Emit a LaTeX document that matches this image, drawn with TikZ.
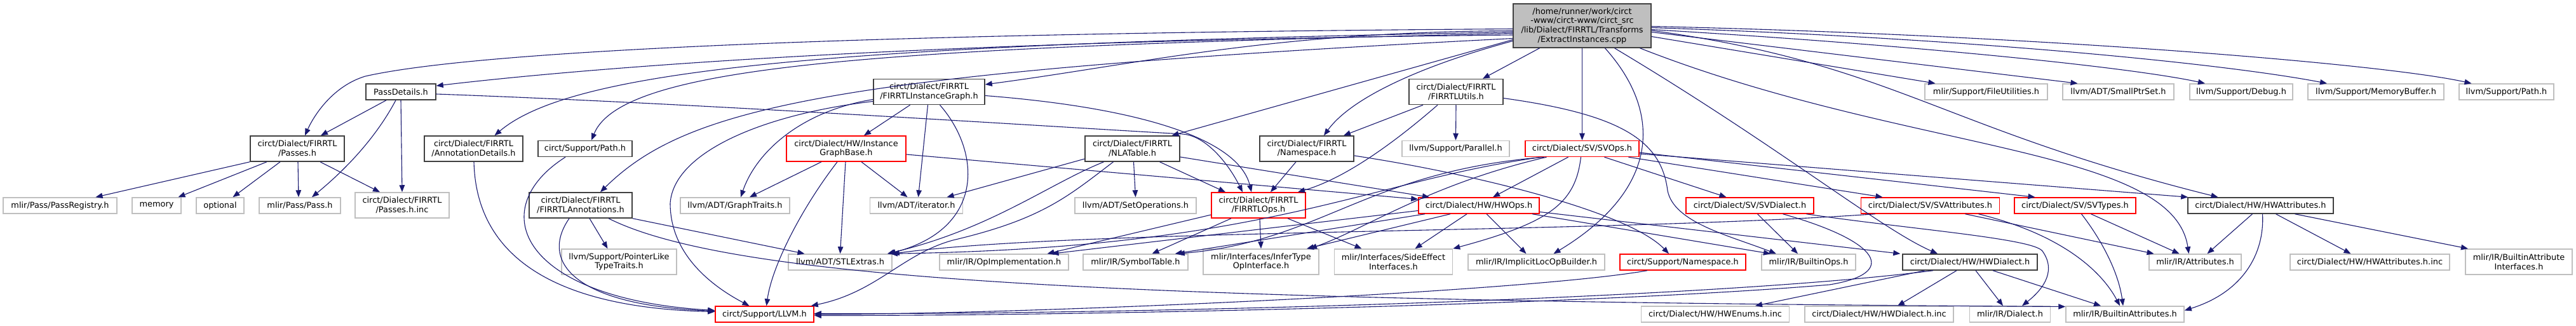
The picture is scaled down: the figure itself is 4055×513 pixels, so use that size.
\documentclass[tikz,border=0pt]{standalone}
\usepackage{fontspec}
\setmainfont{DejaVu Sans}
\usetikzlibrary{arrows.meta}
\definecolor{mb}{HTML}{191970}
\definecolor{gbord}{HTML}{BFBFBF}
\definecolor{rbord}{HTML}{FF0000}
\definecolor{kbord}{HTML}{404040}
\definecolor{tfill}{HTML}{BFBFBF}
\newcommand{\dfont}{\fontsize{12.9}{14.7}\selectfont}
\begin{document}
\begin{tikzpicture}[x=1pt,y=-1pt,
 nb/.style={rectangle, draw, line width=1.5pt, inner xsep=5pt, inner ysep=2pt, minimum height=25pt, align=center, font=\dfont, fill=white, text=black},
 kb/.style={nb, draw=kbord},
 gb/.style={nb, draw=gbord},
 rb/.style={nb, draw=rbord},
 tb/.style={kb, fill=tfill, minimum height=69pt},
 tl/.style={minimum height=40pt},
 ed/.style={draw=mb, line width=1.1pt, -{Triangle[length=11pt,width=8.5pt]}},
]
\useasboundingbox (0,0) rectangle (4055,513);
\fill[white] (0,0) rectangle (4055,513);

% nodes
\node[tb, minimum width=217pt] (T) at (2490.5,40.5) {/home/runner/work/circt\\-www/circt-www/circt\_src\\/lib/Dialect/FIRRTL/Transforms\\/ExtractInstances.cpp};
\node[kb, minimum width=110pt] (pd) at (631,144.5) {PassDetails.h};
\node[kb, tl, minimum width=148pt] (pas) at (468,234) {circt/Dialect/FIRRTL\\/Passes.h};
\node[gb, minimum width=179pt] (preg) at (94.5,323.5) {mlir/Pass/PassRegistry.h};
\node[gb, minimum width=77pt] (mem) at (246.5,323.5) {memory};
\node[gb, minimum width=75pt] (opt) at (346.5,323.5) {optional};
\node[gb, minimum width=128pt] (pass) at (472,323.5) {mlir/Pass/Pass.h};
\node[gb, tl, minimum width=148pt] (pinc) at (633,323) {circt/Dialect/FIRRTL\\/Passes.h.inc};
\node[kb, tl, minimum width=155pt] (and) at (745.5,234) {circt/Dialect/FIRRTL\\/AnnotationDetails.h};
\node[kb, minimum width=148pt] (path) at (921,234) {circt/Support/Path.h};
\node[kb, tl, minimum width=162pt] (anno) at (914,323) {circt/Dialect/FIRRTL\\/FIRRTLAnnotations.h};
\node[gb, tl, minimum width=181pt] (ptr) at (974.5,412) {llvm/Support/PointerLike\\TypeTraits.h};
\node[rb, minimum width=155pt] (llvm) at (1203.5,494.5) {circt/Support/LLVM.h};
\node[rb, tl, minimum width=188pt] (igb) at (1332,234) {circt/Dialect/HW/Instance\\GraphBase.h};
\node[gb, minimum width=172pt] (gt) at (1157,323.5) {llvm/ADT/GraphTraits.h};
\node[gb, minimum width=163pt] (stl) at (1322.5,412.5) {llvm/ADT/STLExtras.h};
\node[kb, tl, minimum width=175pt] (ig) at (1462.5,144.5) {circt/Dialect/FIRRTL\\/FIRRTLInstanceGraph.h};
\node[gb, minimum width=146pt] (it) at (1442.5,323.5) {llvm/ADT/iterator.h};
\node[kb, tl, minimum width=149pt] (nla) at (1782.5,234) {circt/Dialect/FIRRTL\\/NLATable.h};
\node[gb, minimum width=191pt] (set) at (1787.5,323.5) {llvm/ADT/SetOperations.h};
\node[rb, tl, minimum width=148pt] (fops) at (1981,323) {circt/Dialect/FIRRTL\\/FIRRTLOps.h};
\node[gb, minimum width=203pt] (opimpl) at (1580.5,412.5) {mlir/IR/OpImplementation.h};
\node[gb, minimum width=165pt] (sym) at (1787.5,412.5) {mlir/IR/SymbolTable.h};
\node[gb, tl, minimum width=182pt] (infer) at (1985,412) {mlir/Interfaces/InferType\\OpInterface.h};
\node[kb, tl, minimum width=148pt] (ns) at (2057,234) {circt/Dialect/FIRRTL\\/Namespace.h};
\node[kb, tl, minimum width=148pt] (utils) at (2292,144.5) {circt/Dialect/FIRRTL\\/FIRRTLUtils.h};
\node[gb, minimum width=169pt] (par) at (2291.5,234) {llvm/Support/Parallel.h};
\node[rb, minimum width=179pt] (svops) at (2490.5,234) {circt/Dialect/SV/SVOps.h};
\node[rb, minimum width=190pt] (hwops) at (2328,323.5) {circt/Dialect/HW/HWOps.h};
\node[gb, tl, minimum width=186pt] (side) at (2193.5,412) {mlir/Interfaces/SideEffect\\Interfaces.h};
\node[gb, minimum width=215pt] (iloc) at (2418.5,412.5) {mlir/IR/ImplicitLocOpBuilder.h};
\node[rb, minimum width=198pt] (sns) at (2649,412.5) {circt/Support/Namespace.h};
\node[gb, minimum width=233pt] (enums) at (2700,494.5) {circt/Dialect/HW/HWEnums.h.inc};
\node[gb, minimum width=193pt] (fu) at (3126.5,144.5) {mlir/Support/FileUtilities.h};
\node[gb, minimum width=175pt] (sps) at (3334.5,144.5) {llvm/ADT/SmallPtrSet.h};
\node[rb, minimum width=201pt] (svd) at (2754.5,323.5) {circt/Dialect/SV/SVDialect.h};
\node[rb, minimum width=218pt] (sva) at (3038.5,323.5) {circt/Dialect/SV/SVAttributes.h};
\node[rb, minimum width=191pt] (svt) at (3266.5,323.5) {circt/Dialect/SV/SVTypes.h};
\node[gb, minimum width=148pt] (bops) at (2847,412.5) {mlir/IR/BuiltinOps.h};
\node[kb, minimum width=212pt] (hwd) at (3101,412.5) {circt/Dialect/HW/HWDialect.h};
\node[gb, minimum width=234pt] (hwdinc) at (2958,494.5) {circt/Dialect/HW/HWDialect.h.inc};
\node[gb, minimum width=127pt] (dia) at (3164,494.5) {mlir/IR/Dialect.h};
\node[gb, minimum width=186pt] (battr) at (3345,494.5) {mlir/IR/BuiltinAttributes.h};
\node[gb, minimum width=162pt] (dbg) at (3528,144.5) {llvm/Support/Debug.h};
\node[gb, minimum width=214pt] (mbuf) at (3740,144.5) {llvm/Support/MemoryBuffer.h};
\node[gb, minimum width=149pt] (lpath) at (3945.5,144.5) {llvm/Support/Path.h};
\node[kb, minimum width=229pt] (hwa) at (3558.5,323.5) {circt/Dialect/HW/HWAttributes.h};
\node[gb, minimum width=145pt] (attr) at (3455.5,412.5) {mlir/IR/Attributes.h};
\node[gb, minimum width=251pt] (hwainc) at (3730.5,412.5) {circt/Dialect/HW/HWAttributes.h.inc};
\node[gb, tl, minimum width=168pt] (bai) at (3965,412) {mlir/IR/BuiltinAttribute\\Interfaces.h};

% edges from the top node
\draw[ed] ([yshift=-14.5pt]T.west) .. controls (1400,65) and (900,110) .. ([yshift=9.5pt]pd.east);
\draw[ed] ([yshift=-5pt]T.west) .. controls (1400,52) and (760,78) .. (575,120) .. controls (525,135) and (495,180) .. ([xshift=12pt]pas.north);
\draw[ed] ([yshift=-10pt]T.west) .. controls (1300,70) and (900,110) .. ([xshift=33pt]and.north);
\draw[ed] ([yshift=-12pt]T.west) .. controls (1400,75) and (980,100) .. ([xshift=10pt]path.north);
\draw[ed] ([yshift=-20pt]T.west) .. controls (1300,115) and (1080,170) .. ([xshift=31pt]anno.north);
\draw[ed] ([yshift=-8pt]T.west) .. controls (2000,50) and (1800,100) .. ([yshift=11.5pt]ig.east);
\draw[ed] ([yshift=-22pt]T.west) -- ([xshift=62pt]nla.north);
\draw[ed] ([yshift=-24pt]T.west) .. controls (2250,100) and (2130,150) .. ([xshift=27pt]ns.north);
\draw[ed] ([xshift=-67pt]T.south) -- ([xshift=42pt]utils.north);
\draw[ed] (T.south) -- (svops.north);
\draw[ed] ([xshift=36pt]T.south) .. controls (2620,180) and (2610,300) .. ([xshift=27pt]iloc.north);
\draw[ed] ([xshift=51pt]T.south) .. controls (2800,230) and (2960,360) .. ([xshift=-51pt]hwd.north);
\draw[ed] ([xshift=91pt]T.south) .. controls (3000,240) and (3420,230) .. ([xshift=-10pt]attr.north);
\draw[ed] ([yshift=-7.5pt]T.east) .. controls (2980,100) and (3050,200) .. ([xshift=-67pt]hwa.north);
\draw[ed] ([yshift=-17pt]T.east) -- ([xshift=-80pt]fu.north);
\draw[ed] ([yshift=-10pt]T.east) -- ([xshift=-64pt]sps.north);
\draw[ed] ([yshift=-6pt]T.east) .. controls (3000,70) and (3350,105) .. ([xshift=-57pt]dbg.north);
\draw[ed] ([yshift=-3pt]T.east) .. controls (3100,60) and (3500,100) .. ([xshift=-77pt]mbuf.north);
\draw[ed] ([yshift=-1pt]T.east) .. controls (3200,55) and (3750,100) .. ([xshift=-55pt]lpath.north);

% PassDetails
\draw[ed] ([xshift=-23pt]pd.south) -- ([xshift=37pt]pas.north);
\draw[ed] ([xshift=-8pt]pd.south) .. controls (590,220) and (540,270) .. ([xshift=19pt]pass.north);
\draw[ed] (pd.south) -- (pinc.north);
\draw[ed] ([yshift=-3.5pt]pd.east) .. controls (1100,163) and (1600,196) .. (1862,211) .. controls (1900,214) and (1935,260) .. ([xshift=-25pt]fops.north);

% Passes.h
\draw[ed] (pas.south west) -- ([xshift=56pt]preg.north);
\draw[ed] ([xshift=-48pt]pas.south) -- ([xshift=34pt]mem.north);
\draw[ed] ([xshift=-27pt]pas.south) -- ([xshift=20pt]opt.north);
\draw[ed] ([xshift=1pt]pas.south) -- ([xshift=-2pt]pass.north);
\draw[ed] ([xshift=36pt]pas.south) -- ([xshift=-35pt]pinc.north);

% AnnotationDetails, Path, FIRRTLAnnotations
\draw[ed] ([xshift=0.5pt]and.south) .. controls (750,420) and (900,485) .. ([yshift=4pt]llvm.west);
\draw[ed] ([xshift=-31pt]path.south) .. controls (760,330) and (820,470) .. ([yshift=6pt]llvm.west);
\draw[ed] ([xshift=-18pt]anno.south) .. controls (850,410) and (900,480) .. ([yshift=5pt]llvm.west);
\draw[ed] ([xshift=14pt]anno.south) -- ([xshift=-18pt]ptr.north);
\draw[ed] (anno.south east) -- ([xshift=-56pt]stl.north);
\draw[ed] ([xshift=44pt]anno.south) .. controls (1150,440) and (1750,474) .. ([yshift=12pt]battr.west);

% FIRRTLInstanceGraph
\draw[ed] ([xshift=-30pt]ig.south) -- ([xshift=28pt]igb.north);
\draw[ed] ([xshift=-2pt]ig.south) -- ([xshift=3pt]it.north);
\draw[ed] ([xshift=17pt]ig.south) .. controls (1545,240) and (1550,360) .. ([xshift=-6pt]stl.north east);
\draw[ed] ([yshift=-6pt]ig.east) .. controls (1800,170) and (1950,220) .. ([xshift=-11pt]fops.north);
\draw[ed] ([yshift=-12pt]ig.west) .. controls (1260,175) and (1190,240) .. ([xshift=9pt]gt.north);
\draw[ed] ([yshift=-15pt]ig.west) .. controls (1200,180) and (1060,240) .. (1055,320) .. controls (1055,400) and (1120,450) .. ([xshift=-24pt]llvm.north);

% InstanceGraphBase
\draw[ed] ([xshift=-39pt]igb.south) -- ([xshift=23pt]gt.north);
\draw[ed] ([xshift=-14pt]igb.south) .. controls (1260,330) and (1215,420) .. ([xshift=3pt]llvm.north);
\draw[ed] ([xshift=-1pt]igb.south) -- (stl.north);
\draw[ed] ([xshift=24pt]igb.south) -- ([xshift=-14pt]it.north);
\draw[ed] ([yshift=-9pt]igb.east) -- ([yshift=10pt]hwops.west);

% NLATable
\draw[ed] ([yshift=-16pt]nla.west) -- ([xshift=48pt]it.north);
\draw[ed] ([xshift=-45pt]nla.south) .. controls (1650,290) and (1560,360) .. ([xshift=-8pt]stl.north east);
\draw[ed] ([xshift=-30pt]nla.south) .. controls (1680,310) and (1640,345) .. (1500,378) .. controls (1420,400) and (1380,460) .. ([xshift=-5pt]llvm.north east);
\draw[ed] ([xshift=2pt]nla.south) -- (set.north);
\draw[ed] ([xshift=43pt]nla.south) -- ([xshift=-52pt]fops.north);
\draw[ed] ([yshift=-13pt]nla.east) -- ([xshift=-78pt]hwops.north);

% FIRRTLOps
\draw[ed] ([yshift=-15pt]fops.west) -- ([xshift=68pt]opimpl.north);
\draw[ed] ([xshift=-43pt]fops.south) -- ([xshift=26pt]sym.north);
\draw[ed] ([xshift=2pt]fops.south) -- (infer.north);
\draw[ed] ([xshift=46pt]fops.south) -- ([xshift=-50pt]side.north);

% Namespace
\draw[ed] ([xshift=-17pt]ns.south) -- ([xshift=19pt]fops.north);
\draw[ed] ([yshift=-11pt]ns.east) .. controls (2300,270) and (2560,330) .. ([xshift=-22pt]sns.north);

% FIRRTLUtils
\draw[ed] ([xshift=-52pt]utils.south) -- ([xshift=58pt]ns.north);
\draw[ed] ([xshift=-29pt]utils.south) .. controls (2200,220) and (2120,280) .. ([xshift=62pt]fops.north);
\draw[ed] (utils.south) -- (par.north);
\draw[ed] ([yshift=-10pt]utils.east) .. controls (2550,180) and (2615,220) .. (2625,300) .. controls (2635,350) and (2720,370) .. ([xshift=-51pt]bops.north);

% SVOps
\draw[ed] ([xshift=-22pt]svops.south) -- ([xshift=22pt]hwops.north);
\draw[ed] ([xshift=-2pt]svops.south) .. controls (2480,320) and (2440,350) .. (side.north east);
\draw[ed] ([xshift=-56pt]svops.south) .. controls (2250,290) and (2150,360) .. ([xshift=77pt]infer.north);
\draw[ed] ([xshift=-60pt]svops.south) .. controls (2150,270) and (2080,380) .. ([xshift=-17pt]sym.north east);
\draw[ed] ([xshift=-64pt]svops.south) .. controls (2150,285) and (2000,390) .. ([xshift=-3pt]stl.north east);
\draw[ed] ([xshift=35pt]svops.south) -- ([xshift=-37pt]svd.north);
\draw[ed] ([xshift=73pt]svops.south) -- ([xshift=-75pt]sva.north);
\draw[ed] ([yshift=-6pt]svops.east) -- ([xshift=-63pt]svt.north);
\draw[ed] ([yshift=-8pt]svops.east) -- ([xshift=1pt]hwa.north west);

% HWOps
\draw[ed] ([yshift=-8pt]hwops.west) -- ([xshift=75pt]opimpl.north);
\draw[ed] ([xshift=-85pt]hwops.south) -- ([xshift=-21pt]sym.north east);
\draw[ed] ([xshift=-45pt]hwops.south) -- ([xshift=72pt]infer.north);
\draw[ed] ([xshift=-19pt]hwops.south) -- ([xshift=34pt]side.north);
\draw[ed] ([xshift=12pt]hwops.south) -- ([xshift=-16pt]iloc.north);
\draw[ed] ([xshift=84pt]hwops.south) -- ([xshift=-60pt]bops.north);
\draw[ed] ([yshift=-10pt]hwops.east) -- ([xshift=-3pt]hwd.north west);

% SVDialect
\draw[ed] ([xshift=12pt]svd.south) -- ([xshift=-17pt]bops.north);
\draw[ed] ([xshift=89pt]svd.south) .. controls (3000,360) and (3200,375) .. (3215,395) .. controls (3240,430) and (3210,460) .. ([xshift=19pt]dia.north);
\draw[ed] ([xshift=52pt]svd.south) .. controls (2960,380) and (2990,430) .. (2880,448) .. controls (2500,480) and (1700,497) .. ([yshift=-2pt]llvm.east);

% SVAttributes
\draw[ed] ([xshift=-87pt]sva.south) .. controls (2500,368) and (1700,360) .. (stl.north east);
\draw[ed] ([xshift=55pt]sva.south) -- ([xshift=-65pt]attr.north);
\draw[ed] ([xshift=76pt]sva.south) .. controls (3250,370) and (3310,430) .. ([xshift=-8pt]battr.north);

% SVTypes
\draw[ed] ([xshift=10pt]svt.south) .. controls (3310,380) and (3335,430) .. ([xshift=-3pt]battr.north);
\draw[ed] ([xshift=25pt]svt.south) -- ([xshift=-25pt]attr.north);

% HWDialect
\draw[ed] ([xshift=-71pt]hwd.south) -- ([xshift=63pt]enums.north);
\draw[ed] ([xshift=-21pt]hwd.south) -- ([xshift=29pt]hwdinc.north);
\draw[ed] ([xshift=9pt]hwd.south) -- ([xshift=-11pt]dia.north);
\draw[ed] ([xshift=36pt]hwd.south) -- ([xshift=-38pt]battr.north);
\draw[ed] ([xshift=-58pt]hwd.south) .. controls (2700,470) and (1800,495) .. ([yshift=1pt]llvm.east);

% Support/Namespace
\draw[ed] ([xshift=-56pt]sns.south) .. controls (2400,460) and (1600,495) .. (llvm.east);

% HWAttributes
\draw[ed] ([xshift=-13pt]hwa.south) -- ([xshift=19pt]attr.north);
\draw[ed] ([xshift=3pt]hwa.south) .. controls (3565,400) and (3530,460) .. ([yshift=6pt]battr.east);
\draw[ed] ([xshift=24pt]hwa.south) -- ([xshift=-30pt]hwainc.north);
\draw[ed] ([xshift=54pt]hwa.south) -- ([xshift=-80pt]bai.north);
\end{tikzpicture}
\end{document}
